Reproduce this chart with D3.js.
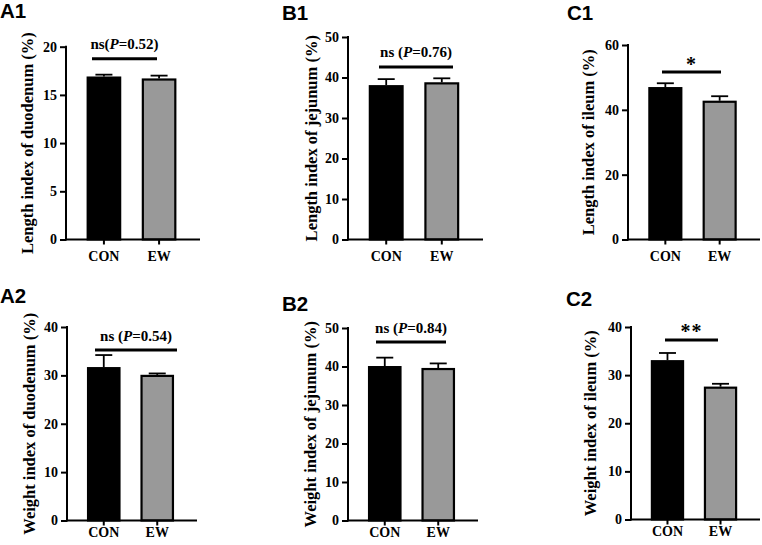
<!DOCTYPE html>
<html><head><meta charset="utf-8">
<script src="https://cdn.jsdelivr.net/npm/d3@7"></script>
<style>body{margin:0;background:#fff}svg{display:block}</style>
</head><body>
<svg id="c" width="762" height="545"></svg>
<script>
const categories = ["CON", "EW"];
const panelIds = ["A1", "B1", "C1", "A2", "B2", "C2"];
const yLabels = ["Length index of duodenum (%)", "Length index of jejunum (%)", "Length index of ileum (%)",
                 "Weight index of duodenum (%)", "Weight index of jejunum (%)", "Weight index of ileum (%)"];
const yMax = [20, 50, 60, 40, 50, 40];
const yTickStep = [5, 10, 20, 10, 10, 10];
const meanCON = [16.9, 38.1, 47.0, 31.7, 40.1, 33.1];
const meanEW  = [16.7, 38.8, 42.8, 30.1, 39.6, 27.6];
const errCON  = [0.2, 1.5, 1.2, 2.5, 2.2, 1.5];
const errEW   = [0.3, 1.0, 1.4, 0.3, 1.2, 0.6];
const sigPrefix = ["ns(", "ns (", "", "ns (", "ns (", ""];
const sigP = ["0.52", "0.76", "", "0.54", "0.84", ""];
const sigStars = ["", "", "*", "", "", "**"];

// layout (pixels)
const layout = [
  {ax: 66,  axEnd: 200, yTop: 46.7, y0: 239.5, tx: 0,   ty: 17.5, lx: 29,  sigY: 58.7, sigX: [92, 157],  txtY: 49,  xpad: 7},
  {ax: 348, axEnd: 483, yTop: 37,   y0: 239.5, tx: 282, ty: 19.5, lx: 313, sigY: 67,   sigX: [379, 453], txtY: 57,  xpad: 7},
  {ax: 628, axEnd: 760, yTop: 45,   y0: 239.5, tx: 567, ty: 19.5, lx: 590, sigY: 72,   sigX: [662, 721], txtY: 68,  xpad: 7},
  {ax: 67,  axEnd: 197, yTop: 327,  y0: 520.5, tx: 0,   ty: 303,  lx: 31,  sigY: 350,  sigX: [95, 177],  txtY: 341, xpad: 2},
  {ax: 348, axEnd: 478, yTop: 328,  y0: 520.5, tx: 282, ty: 311,  lx: 312, sigY: 342,  sigX: [376, 446], txtY: 333, xpad: 2},
  {ax: 631, axEnd: 760, yTop: 327,  y0: 519.5, tx: 566, ty: 306,  lx: 592, sigY: 340,  sigX: [665, 718], txtY: 335, xpad: 2}
];

const svg = d3.select("#c");
const serif = "'Liberation Serif','Times New Roman',serif";
const sans = "'Liberation Sans',Arial,sans-serif";
const fills = ["#000000", "#999999"];

panelIds.forEach((id, i) => {
  const L = layout[i];
  const g = svg.append("g");
  const y = d3.scaleLinear().domain([0, yMax[i]]).range([L.y0, L.yTop]);
  const x = d3.scaleBand().domain(categories).range([L.ax, L.axEnd - 3]).paddingInner(0.375).paddingOuter(0.375);
  const data = [
    {c: "CON", v: meanCON[i], e: errCON[i]},
    {c: "EW",  v: meanEW[i],  e: errEW[i]}
  ];

  // title
  g.append("text").attr("x", L.tx).attr("y", L.ty).text(id)
    .attr("font-family", sans).attr("font-weight", "bold").attr("font-size", 20.5).attr("fill", "#000");

  // error bars (upper only)
  data.forEach(d => {
    const cx = x(d.c) + x.bandwidth() / 2;
    g.append("line").attr("x1", cx).attr("x2", cx).attr("y1", y(d.v)).attr("y2", y(d.v + d.e))
      .attr("stroke", "#000").attr("stroke-width", 1.8);
    g.append("line").attr("x1", cx - 8.5).attr("x2", cx + 8.5).attr("y1", y(d.v + d.e)).attr("y2", y(d.v + d.e))
      .attr("stroke", "#000").attr("stroke-width", 1.8);
  });

  // bars
  g.selectAll("rect.bar").data(data).enter().append("rect")
    .attr("x", d => x(d.c) + 1).attr("width", x.bandwidth() - 2)
    .attr("y", d => y(d.v) + 1).attr("height", d => y(0) - y(d.v) - 1)
    .attr("fill", (d, k) => fills[k]).attr("stroke", "#000").attr("stroke-width", 2.2);

  // y axis
  const ticks = d3.range(0, yMax[i] + 0.001, yTickStep[i]);
  const ya = g.append("g").attr("transform", `translate(${L.ax},0)`)
    .call(d3.axisLeft(y).tickValues(ticks).tickSize(6).tickSizeOuter(0).tickPadding(3));
  ya.select(".domain").attr("stroke-width", 2).attr("d", `M0,${y(yMax[i]) - 1}V${L.y0 + 1}`);
  ya.selectAll(".tick line").attr("stroke-width", 2);
  ya.selectAll(".tick text").attr("font-family", serif).attr("font-weight", "bold").attr("font-size", 14).attr("fill", "#000");

  // x axis
  const xa = g.append("g").attr("transform", `translate(0,${L.y0})`)
    .call(d3.axisBottom(x).tickSize(5).tickSizeOuter(0).tickPadding(L.xpad));
  xa.select(".domain").attr("stroke-width", 2).attr("d", `M${L.ax - 1},0H${L.axEnd}`);
  xa.selectAll(".tick line").attr("stroke-width", 2);
  xa.selectAll(".tick text").attr("font-family", serif).attr("font-weight", "bold").attr("font-size", 14).attr("fill", "#000");

  // y label
  g.append("text").attr("transform", `translate(${L.lx},${(L.yTop + L.y0) / 2}) rotate(-90)`)
    .attr("text-anchor", "middle").attr("dominant-baseline", "middle")
    .attr("font-family", serif).attr("font-weight", "bold").attr("font-size", 16.5).attr("fill", "#000")
    .text(yLabels[i]);

  // significance line + text
  g.append("line").attr("x1", L.sigX[0]).attr("x2", L.sigX[1]).attr("y1", L.sigY).attr("y2", L.sigY)
    .attr("stroke", "#000").attr("stroke-width", 3);
  const cx = (L.sigX[0] + L.sigX[1]) / 2;
  const t = g.append("text").attr("x", cx).attr("y", L.txtY).attr("text-anchor", "middle")
    .attr("font-family", serif).attr("font-weight", "bold").attr("font-size", 15).attr("fill", "#000");
  if (sigStars[i]) {
    t.attr("font-size", 20).attr("y", L.txtY + 3).attr("letter-spacing", 1).text(sigStars[i]);
  } else {
    t.append("tspan").text(sigPrefix[i]);
    t.append("tspan").attr("font-style", "italic").text("P");
    t.append("tspan").text("=" + sigP[i] + ")");
  }
});
</script>
</body></html>
